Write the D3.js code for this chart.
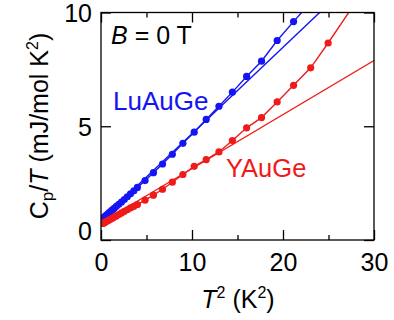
<!DOCTYPE html>
<html>
<head>
<meta charset="utf-8">
<script src="https://cdn.jsdelivr.net/npm/d3@7"></script>
<style>
  html, body { margin: 0; padding: 0; background: #fff; }
  svg { display: block; font-family: "Liberation Sans", Arial, sans-serif; }
</style>
</head>
<body>
<svg id="chart" width="394" height="320"></svg>
<script>
// Specific heat Cp/T versus T^2 at zero field
const luT2 = [0.25, 0.36, 0.49, 0.64, 0.81, 1.00, 1.21, 1.44, 1.69, 1.96, 2.25, 2.56, 2.89, 3.24, 3.61,
              4.00, 4.84, 5.76, 6.76, 7.84, 9.00, 10.24, 11.56, 12.96, 14.44, 16.00, 17.64, 19.36, 21.16, 23.04];
const luCpT = [0.97, 1.01, 1.06, 1.11, 1.17, 1.24, 1.31, 1.39, 1.48, 1.57, 1.67, 1.78, 1.90, 2.03, 2.16,
               2.31, 2.61, 2.96, 3.34, 3.77, 4.25, 4.74, 5.30, 5.88, 6.50, 7.19, 7.86, 8.77, 9.60, 10.45];
const yT2 = [0.16, 0.25, 0.36, 0.49, 0.64, 0.81, 1.00, 1.21, 1.44, 1.69, 1.96, 2.25, 2.56, 2.89, 3.24, 3.61,
             4.00, 4.84, 5.76, 6.76, 7.84, 9.00, 10.24, 11.56, 12.96, 14.44, 16.00, 17.64, 19.36, 21.16, 23.04, 24.96, 27.56];
const yCpT = [0.73, 0.74, 0.76, 0.79, 0.82, 0.86, 0.90, 0.95, 1.00, 1.06, 1.12, 1.19, 1.26, 1.33, 1.41, 1.48,
              1.56, 1.75, 1.97, 2.23, 2.54, 2.88, 3.24, 3.53, 3.87, 4.37, 4.93, 5.38, 6.07, 6.80, 7.57, 8.66, 10.20];

// Linear fits Cp/T = gamma + beta*T^2
const fitNames = ["LuAuGe", "YAuGe"];
const fitGamma = [0.87, 0.76];
const fitBeta = [0.380, 0.2376];

const xTicks = [0, 5, 10, 15, 20, 25, 30];
const xTickLabels = ["0", "", "10", "", "20", "", "30"];
const yTicks = [0, 5, 10];
const yTickLabels = ["0", "5", "10"];

const colors = { LuAuGe: "#1414f5", YAuGe: "#f01a1a" };

const m = { left: 101, right: 374, top: 12.5, bottom: 240 };
const svg = d3.select("#chart");
const x = d3.scaleLinear().domain([0, 30]).range([m.left, m.right]);
const y = d3.scaleLinear().domain([0, 10]).range([m.bottom, m.top]);

svg.append("defs").append("clipPath").attr("id", "plot")
  .append("rect").attr("x", m.left).attr("y", m.top)
  .attr("width", m.right - m.left).attr("height", m.bottom - m.top);

const plot = svg.append("g").attr("clip-path", "url(#plot)");
const line = d3.line().x(d => x(d[0])).y(d => y(d[1]));

function series(xs, ys, color) {
  const pts = xs.map((v, i) => [v, ys[i]]);
  plot.append("path").datum(pts).attr("d", line)
    .attr("fill", "none").attr("stroke", color).attr("stroke-width", 1.4);
  plot.append("g").selectAll("circle").data(pts).join("circle")
    .attr("cx", d => x(d[0])).attr("cy", d => y(d[1])).attr("r", 3.6)
    .attr("fill", color);
}

// fit lines
fitNames.forEach((n, i) => {
  const pts = [0, 30].map(t => [t, fitGamma[i] + fitBeta[i] * t]);
  plot.append("path").datum(pts).attr("d", line)
    .attr("fill", "none").attr("stroke", colors[n]).attr("stroke-width", 1.4);
});

series(luT2, luCpT, colors.LuAuGe);
series(yT2, yCpT, colors.YAuGe);

// frame
svg.append("rect").attr("x", m.left).attr("y", m.top)
  .attr("width", m.right - m.left).attr("height", m.bottom - m.top)
  .attr("fill", "none").attr("stroke", "#000").attr("stroke-width", 1.3);

// inward ticks on all sides
const tickLen = (lbl) => lbl === "" ? 5 : 10;
const axB = d3.axisBottom(x).tickValues(xTicks).tickSizeOuter(0)
  .tickSizeInner(0).tickFormat((d, i) => xTickLabels[i]);
const gB = svg.append("g").attr("transform", `translate(0,${m.bottom})`).call(axB);
gB.select(".domain").remove();
gB.selectAll(".tick line").attr("y2", (d, i) => -tickLen(xTickLabels[i])).attr("stroke-width", 1.3);
gB.selectAll(".tick text").attr("font-size", 25).attr("font-family", "Liberation Sans, Arial")
  .attr("fill", "#000").attr("y", 13);

const axT = d3.axisTop(x).tickValues(xTicks).tickSizeOuter(0).tickSizeInner(0).tickFormat("");
const gT = svg.append("g").attr("transform", `translate(0,${m.top})`).call(axT);
gT.select(".domain").remove();
gT.selectAll(".tick line").attr("y2", (d, i) => tickLen(xTickLabels[i])).attr("stroke-width", 1.3);

const axL = d3.axisLeft(y).tickValues(yTicks).tickSizeOuter(0).tickSizeInner(0)
  .tickFormat((d, i) => yTickLabels[i]);
const gL = svg.append("g").attr("transform", `translate(${m.left},0)`).call(axL);
gL.select(".domain").remove();
gL.selectAll(".tick line").attr("x2", 10).attr("stroke-width", 1.3);
gL.selectAll(".tick text").attr("font-size", 25).attr("font-family", "Liberation Sans, Arial")
  .attr("fill", "#000").attr("x", -9)
  .attr("dy", d => d === 0 ? "-0.02em" : "0.36em");

const axR = d3.axisRight(y).tickValues(yTicks).tickSizeOuter(0).tickSizeInner(0).tickFormat("");
const gR = svg.append("g").attr("transform", `translate(${m.right},0)`).call(axR);
gR.select(".domain").remove();
gR.selectAll(".tick line").attr("x2", -10).attr("stroke-width", 1.3);

// axis titles
const xt = svg.append("text").attr("x", 238).attr("y", 308).attr("text-anchor", "middle")
  .attr("font-size", 25).attr("fill", "#000");
xt.append("tspan").attr("font-style", "italic").text("T");
xt.append("tspan").attr("font-size", 16).attr("dy", -10).text("2");
xt.append("tspan").attr("dy", 10).text(" (K");
xt.append("tspan").attr("font-size", 16).attr("dy", -10).text("2");
xt.append("tspan").attr("dy", 10).text(")");

const yt = svg.append("text").attr("transform", "translate(48,126) rotate(-90)")
  .attr("text-anchor", "middle").attr("font-size", 25).attr("fill", "#000");
yt.append("tspan").text("C");
yt.append("tspan").attr("font-size", 17).attr("dy", 5).text("p");
yt.append("tspan").attr("dy", -5).text("/");
yt.append("tspan").attr("font-style", "italic").text("T");
yt.append("tspan").text(" (mJ/mol K");
yt.append("tspan").attr("font-size", 16).attr("dy", -10).text("2");
yt.append("tspan").attr("dy", 10).text(")");

// annotations
const bt = svg.append("text").attr("x", 111).attr("y", 44).attr("font-size", 25).attr("fill", "#000");
bt.append("tspan").attr("font-style", "italic").text("B");
bt.append("tspan").text(" = 0 T");

svg.append("text").attr("x", 113).attr("y", 109.5).attr("font-size", 26)
  .attr("fill", colors.LuAuGe).text(fitNames[0]);
svg.append("text").attr("x", 226).attr("y", 177).attr("font-size", 25.5)
  .attr("fill", colors.YAuGe).text(fitNames[1]);
</script>
</body>
</html>
